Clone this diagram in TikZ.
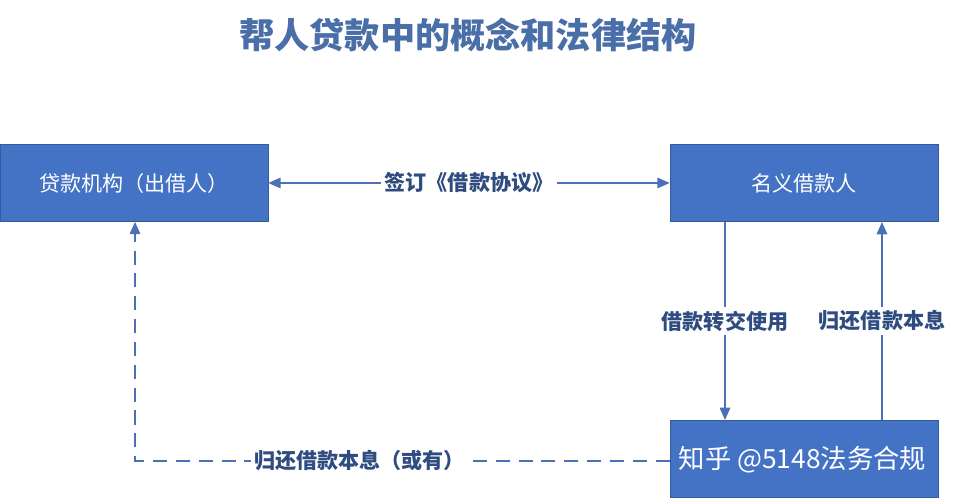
\documentclass[tikz,border=0pt]{standalone}
\usepackage{fontspec}
\setmainfont{Noto Sans CJK SC}
\usetikzlibrary{arrows.meta}
\definecolor{boxblue}{HTML}{4472C4}
\definecolor{lineblue}{HTML}{4A70B5}
\definecolor{textblue}{HTML}{2F4C80}
\definecolor{titleblue}{HTML}{4A6EA8}
\tikzset{
  party/.style={fill=boxblue, draw=boxblue!80!black, text=white, minimum width=5.36cm, minimum height=1.54cm, font=\fontsize{12}{14}\selectfont},
  flow/.style={draw=lineblue, line width=0.8pt, -{Triangle[length=7pt,width=6pt]}},
  lab/.style={fill=white, text=textblue, font=\bfseries\fontsize{12}{14}\selectfont, inner sep=2pt}
}
\begin{document}
\begin{tikzpicture}
    \useasboundingbox (0,0) rectangle (19.26,10);

    % 标题
    \node[text=titleblue, font=\bfseries\fontsize{20}{24}\selectfont] (title) at (9.36,9.3) {帮人贷款中的概念和法律结构};

    % 三方
    \node[party] (lender) at (2.68,6.34) {贷款机构（出借人）};
    \node[party] (nominal) at (16.08,6.34) {名义借款人};
    \node[party, anchor=north] (actual) at (16.08,1.6) {};
    \node[text=white, font=\fontsize{15}{18}\selectfont] (mark) at (16.05,0.8) {知乎 @5148法务合规};

    % 借款协议
    \draw[flow, {Triangle[length=7pt,width=6pt]}-{Triangle[length=7pt,width=6pt]}] (lender.east) -- node[lab] {签订《借款协议》} (nominal.west);

    % 借款流向
    \coordinate (d1) at (14.5,5.56);
    \coordinate (d2) at (14.5,1.6);
    \draw[flow] (d1) -- node[lab, pos=0.5] {借款转交使用} (d2);
    \coordinate (u1) at (17.64,1.6);
    \coordinate (u2) at (17.64,5.56);
    \draw[flow] (u1) -- node[lab, pos=0.5] {归还借款本息} (u2);

    % 或有还款
    \coordinate (turn) at (2.7,0.78);
    \draw[flow, dashed, dash pattern=on 8pt off 5pt] (actual.west |- turn) -- node[lab, pos=0.58] {归还借款本息（或有）} (turn) -- (turn |- lender.south);
\end{tikzpicture}
\end{document}
